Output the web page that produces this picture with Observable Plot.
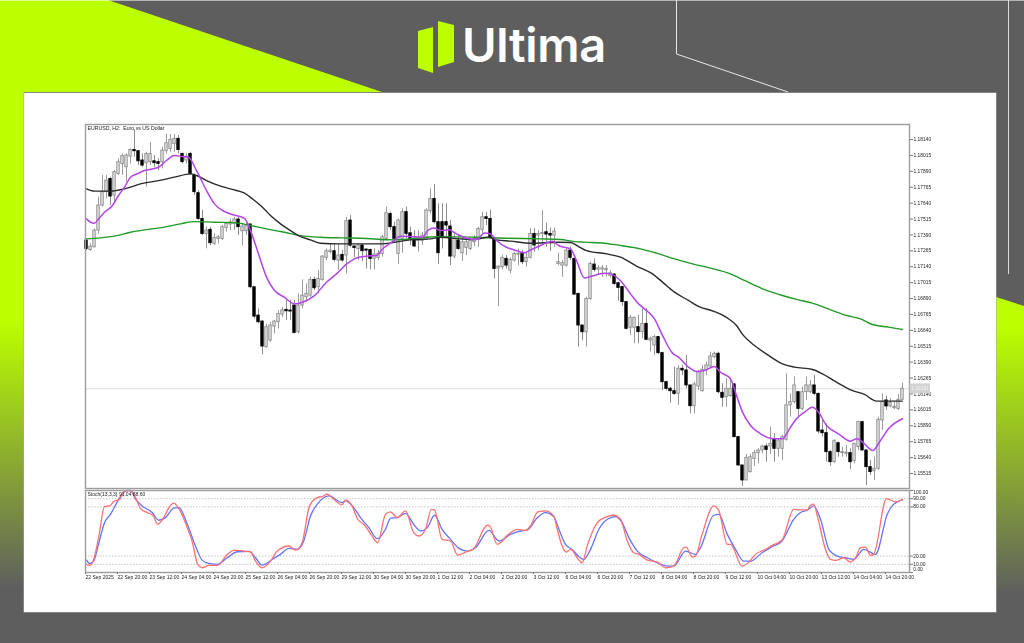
<!DOCTYPE html>
<html>
<head>
<meta charset="utf-8">
<script src="https://cdn.jsdelivr.net/npm/d3@7"></script>
<script src="https://cdn.jsdelivr.net/npm/@observablehq/plot@0.6"></script>
<style>
html,body{margin:0;padding:0;background:#5e5e5e;}
#page{position:relative;width:1024px;height:643px;overflow:hidden;background:#5e5e5e;font-family:"Liberation Sans",sans-serif;}
#page>*{position:absolute;}
#page svg{background:transparent;overflow:visible;}
.chart{left:0;filter:blur(0.5px);}
#logoText{left:462px;top:21px;font:600 47px/1 Inter,sans-serif;color:#fff;letter-spacing:-0.3px;}
</style>
</head>
<body>
<div id="page">
<div style="inset:0;background:#bbff00;clip-path:polygon(0 0,108px 0,382px 92px,24px 92px,24px 100%,0 100%);"></div>
<div style="left:0;top:322px;width:24px;height:321px;background:linear-gradient(#bbff00,#5e5e5e 83%);"></div>
<div style="left:996px;top:297px;width:28px;height:346px;background:linear-gradient(#bbff00 8%,#bbff00 9%,#5e5e5e 86%);clip-path:polygon(0 0,100% 9px,100% 100%,0 100%);"></div>
<div style="left:0;top:0;width:1024px;height:1px;background:rgba(255,255,255,.55);"></div>
<svg style="left:0;top:0" width="1024" height="300"><path d="M676.5 0V54L788 92" fill="none" stroke="#e8e8e8" stroke-width="1"/><path d="M1008.5 0V274" fill="none" stroke="#dcdcdc" stroke-width="1"/><path d="M418 31L433 27V73L418 68ZM438 21L454 25V62L438 67Z" fill="#bbff00"/></svg>
<div id="logoText">Ultima</div>
<div style="left:24px;top:92.5px;width:972px;height:519.5px;background:#fff;box-shadow:0 0 0 .5px #aaa;"></div>
<div id="main" class="chart" style="top:0"></div>
<div id="stoch" class="chart" style="top:490px"></div>
</div>
<script>
// Candles, in 1e-5 price points (bar 0 = 22 Sep 2025, H2)
const opens = [117346,117272,117293,117424,117621,117726,117830,117700,117870,117948,
117922,118006,118058,118048,117975,117954,117962,117969,117962,117962,
118048,118066,118106,118145,118027,117975,118027,117857,117718,117516,
117398,117430,117320,117359,117359,117445,117472,117477,117511,117419,
117419,117472,116979,116756,116709,116507,116560,116670,116704,116764,
116801,116796,116835,116625,116835,116900,116913,117037,116979,117037,
117210,117254,117262,117189,117233,117228,117503,117299,117280,117307,
117275,117272,117202,117210,117241,117359,117555,117451,117241,117359,
117569,117403,117359,117341,117341,117351,117576,117673,117490,117490,
117490,117456,117220,117346,117246,117288,117280,117333,117359,117430,
117529,117516,117359,117126,117136,117202,117110,117189,117236,117241,
117176,117210,117398,117385,117398,117411,117398,117385,117162,117149,
117149,117267,117202,116927,116678,116625,116887,117157,117118,117118,
117113,117068,117079,117010,116980,116862,116660,116660,116665,116626,
116691,116560,116521,116587,116461,116233,116181,116162,116141,116338,
116325,116207,116044,116199,116162,116325,116356,116429,116456,116149,
116115,116123,116215,115801,115578,115460,115526,115630,115675,115696,
115727,115727,115780,115709,115709,115780,116050,116076,116154,116023,
116154,116154,116207,116141,115853,115832,115683,115604,115753,115675,
115670,115675,115612,115722,115919,115696,115565,115533,115552,115932,
116089,116042,116028,116023,116094];
const highs = [117351,117320,117438,117686,117857,117857,117844,117896,117988,118027,
118027,118066,118216,118053,118027,118040,118119,118014,117988,118079,
118179,118179,118179,118171,118032,118027,118040,117870,117739,117582,
117451,117451,117398,117385,117464,117490,117516,117529,117529,117477,
117490,117477,116979,116809,116717,116686,116704,116717,116796,116822,
116874,116874,116874,116927,117037,117005,117058,117058,117110,117228,
117280,117320,117320,117320,117267,117529,117542,117307,117314,117314,
117280,117280,117280,117267,117385,117608,117569,117490,117516,117595,
117608,117451,117424,117424,117411,117595,117752,117786,117634,117634,
117634,117503,117398,117385,117359,117359,117372,117385,117451,117569,
117569,117587,117372,117149,117228,117228,117210,117254,117280,117267,
117254,117438,117438,117424,117582,117482,117445,117445,117246,117189,
117280,117293,117202,116927,116678,116900,117176,117202,117149,117149,
117149,117110,117084,117018,116980,116862,116757,116744,116757,116809,
116809,116587,116600,116592,116469,116233,116194,116351,116364,116364,
116443,116207,116233,116325,116364,116390,116469,116469,116469,116220,
116259,116259,116220,115806,115578,115664,115664,115696,115709,115735,
115748,115879,115827,115788,115814,116298,116141,116272,116159,116194,
116272,116246,116285,116146,115932,115905,115696,115780,115761,115722,
115735,115709,115748,115926,115926,115696,115617,115643,115958,116141,
116123,116102,116076,116136,116225];
const lows = [117267,117262,117288,117398,117608,117673,117621,117634,117857,117857,
117804,117948,118001,117935,117922,117765,117935,117922,117896,117909,
118027,118040,118040,118027,117948,117948,117857,117700,117503,117385,
117280,117306,117306,117320,117346,117411,117424,117424,117385,117306,
117385,116966,116730,116691,116447,116502,116547,116612,116651,116743,
116717,116717,116612,116612,116809,116861,116900,116953,116927,117026,
117189,117241,117176,117110,117176,117084,117293,117210,117189,117183,
117123,117115,117115,117189,117215,117346,117424,117333,117157,117246,
117359,117307,117293,117254,117307,117346,117555,117477,117157,117280,
117372,117149,117202,117267,117183,117228,117267,117299,117293,117398,
117464,117359,117044,116827,117115,117123,117084,117176,117149,117157,
117136,117202,117254,117267,117307,117293,117259,117293,117149,117058,
117136,117189,116914,116507,116560,116507,116874,117097,117071,117058,
117058,117052,116992,116869,116828,116644,116600,116534,116534,116574,
116560,116469,116443,116450,116167,116167,116068,116128,116050,116285,
116181,115984,115984,116167,116154,116285,116346,116416,116141,116036,
116036,116115,115795,115570,115413,115460,115518,115570,115591,115670,
115604,115664,115604,115643,115617,115769,115958,116063,115945,116010,
116089,116141,116128,115827,115801,115604,115570,115596,115643,115643,
115643,115544,115591,115696,115691,115421,115499,115460,115539,115853,
116010,116031,116018,116010,116089];
const closes = [117280,117299,117424,117621,117726,117817,117692,117883,117962,118009,
118014,118058,118048,117969,117935,118027,118027,117954,117948,118053,
118111,118137,118145,118058,117962,118006,117870,117726,117516,117398,
117424,117325,117367,117372,117451,117477,117490,117511,117451,117456,
117464,116979,116748,116704,116513,116665,116678,116709,116769,116796,
116790,116788,116620,116835,116913,116927,117037,116971,117045,117220,
117262,117267,117194,117228,117189,117498,117306,117288,117307,117262,
117267,117202,117236,117241,117372,117561,117451,117359,117503,117569,
117398,117359,117299,117359,117385,117582,117673,117490,117246,117372,
117464,117220,117359,117280,117333,117333,117346,117359,117438,117529,
117516,117372,117123,117141,117210,117149,117194,117241,117241,117176,
117210,117398,117307,117398,117406,117393,117385,117417,117176,117168,
117267,117210,116921,116678,116625,116887,117162,117115,117128,117128,
117123,117089,117005,116974,116862,116652,116739,116739,116626,116691,
116566,116574,116587,116461,116233,116181,116162,116141,116338,116325,
116207,116044,116215,116311,116330,116364,116435,116456,116154,116110,
116181,116181,115801,115578,115460,115638,115643,115675,115696,115727,
115701,115748,115709,115774,115801,116050,116076,116207,116023,116154,
116207,116207,116141,115845,115832,115683,115604,115769,115683,115683,
115678,115604,115748,115919,115696,115565,115526,115552,115937,116076,
116042,116068,116039,116094,116181];

// Moving averages: [bar, price points]
const maFast = [[0,117516],[1,117490],[2,117482],[3,117516],[4.5,117568],[6.5,117621],[8,117700],[9.5,117765],[11,117844],[13,117875],[14.5,117896],[18,117922],[20,117975],[22,118014],[24,118006],[25.5,118001],[27.5,117896],[30,117739],[32,117634],[34,117582],[36,117555],[39.5,117521],[41,117424],[43,117241],[45,117058],[47,116953],[49.5,116900],[52,116848],[54,116861],[57,116913],[60,117018],[62.5,117084],[65,117160],[67,117202],[70,117223],[72.5,117228],[74,117280],[76,117325],[78.5,117380],[81,117377],[84,117372],[85.5,117430],[87,117445],[88.5,117424],[90.5,117430],[92.5,117398],[95,117364],[97.5,117354],[99.5,117406],[101,117398],[102.5,117346],[105,117293],[107,117272],[109.5,117249],[111,117272],[113.5,117307],[116.5,117341],[118,117307],[121,117280],[122.5,117189],[124.5,117052],[126,117063],[129.5,117089],[131,117084],[133.5,117030],[136,116927],[138,116849],[139.5,116809],[142,116731],[144,116600],[146.5,116461],[148,116429],[150.5,116351],[152.5,116317],[154.5,116325],[157,116356],[158.5,116311],[161,116259],[162.5,116128],[164,115997],[166,115892],[168.5,115827],[172,115788],[174,115788],[176,115879],[177.5,115945],[179.5,115997],[181.5,116036],[183,115997],[185,115892],[188,115827],[191,115769],[192.5,115788],[194.5,115748],[196.5,115696],[198.5,115774],[200.5,115866],[204,115945]];
const maMid = [[0,117752],[2,117734],[6,117734],[9.5,117752],[13.5,117791],[18,117817],[22,117844],[26,117870],[27.5,117857],[30,117817],[33.5,117773],[37.5,117739],[39.5,117718],[41.5,117673],[44,117608],[46,117542],[48.5,117477],[51,117424],[53,117385],[56,117351],[58.5,117325],[63,117320],[68.5,117320],[74,117320],[77,117333],[81,117351],[86,117359],[88.5,117372],[93.5,117359],[97,117354],[100.5,117372],[102.5,117351],[106,117341],[111,117325],[118,117333],[121,117330],[123,117299],[125,117267],[130,117241],[133.5,117215],[137.5,117145],[141.5,117084],[144,117019],[147,116940],[150.5,116875],[153,116828],[157,116788],[160.5,116731],[162.5,116678],[164,116608],[167,116521],[170.5,116443],[174,116377],[177,116351],[181.5,116332],[184,116298],[187.5,116233],[191.5,116167],[194.5,116136],[197.5,116084],[204,116084]];
const maSlow = [[0,117359],[3.5,117367],[7,117380],[11,117411],[15,117432],[19.5,117451],[23.5,117477],[27,117495],[32,117490],[37.5,117485],[41,117464],[45,117438],[49.5,117411],[53.5,117385],[58.5,117372],[63.5,117367],[68.5,117364],[77,117351],[85,117372],[88,117377],[97,117372],[105,117364],[113.5,117359],[118.5,117354],[122,117338],[124.5,117333],[129.5,117325],[133.5,117307],[138.5,117281],[142.5,117247],[147,117202],[151.5,117163],[156,117129],[161,117084],[164.5,117032],[169,116967],[174,116914],[177.5,116883],[181.5,116854],[186,116801],[190,116757],[193.5,116731],[196.5,116686],[200.5,116665],[204,116647]];

// Stochastic lines: [bar, value]
const stochMain = [[0,10],[.75,8.6],[1.8,15.9],[3.1,44.5],[4.5,80.4],[5.75,81.2],[6.8,86.5],[8.3,89.4],[8.9,95.5],[9.75,99.6],[11,100],[12.25,91.4],[13.5,77.9],[15.2,73.1],[16.7,69],[17.8,58.8],[19.3,66.9],[20.6,79.2],[21.8,84.5],[23.1,77.9],[25.2,54.7],[26.4,38.4],[27.8,9.8],[28.9,5.7],[30.6,8.6],[32.7,8.6],[35.2,22.1],[37,27.4],[39.3,26.1],[41,25.3],[42.25,13.9],[43.9,5.7],[46,13.9],[47.7,26.1],[50.6,32.3],[52.25,27.4],[53.9,36.3],[55.75,81.2],[57.7,91.4],[58.9,92.6],[60.2,95.5],[61.8,89.4],[63.9,82.4],[64.75,88.6],[66.4,81.2],[67.8,64.9],[69.3,58.8],[71.4,44.5],[72.8,36.3],[74.75,71],[76,73.9],[77.7,66.9],[79.75,75.1],[81.8,48.6],[83.1,44.5],[84.75,52.7],[86.2,77.1],[87,76.3],[88.9,40.4],[91,38.4],[92.8,21.2],[94.75,24.9],[96.8,29],[100.2,57.6],[100.8,56.7],[102.7,34.3],[103.5,36.3],[105.2,45.3],[107.7,52.7],[109.75,51.4],[111,56.7],[112.8,73.9],[114.75,75.1],[116.8,69],[117.7,52.7],[118.9,32.3],[119.9,24.9],[121,28.2],[123.1,15.1],[123.9,11.9],[125.3,34.3],[127.7,60.8],[130.2,68.2],[131.8,69.8],[133.5,64.9],[135.2,38.4],[136.8,24.1],[138.1,22.1],[140.2,15.1],[142.7,12.7],[144.75,5.7],[146.8,7.8],[149.3,30.2],[149.9,31],[151.4,19.2],[152.25,20],[153.9,46.5],[156.8,81.2],[158.1,75.1],[160.2,34.3],[161,34.3],[163.9,7.8],[165.6,12.7],[167.25,22.1],[169.75,28.2],[171.4,33.1],[173.9,39.6],[176.8,77.1],[178.1,76.3],[180.2,76.3],[181,82],[181.8,83.3],[182.7,69],[184.75,28.2],[186,15.9],[187.25,14.7],[189.3,18],[191,12.7],[192.25,18],[193.5,30.2],[194.75,31],[196,20.8],[196.8,22.1],[200,90.2],[202.25,86.1],[204,89.4]];
const stochSignal = [[0,15.1],[.75,11],[1.8,13.9],[3.1,36.3],[4.5,60.8],[6,71],[7.7,86.1],[8.9,95.5],[10,100],[11,100],[12.25,89.4],[13.9,81.2],[16.4,73.1],[18.1,63.7],[19.75,66.9],[21.8,78.4],[23.1,79.2],[25.2,58.8],[27.25,32.3],[28.9,15.1],[30.6,11],[32.7,9.8],[35.2,18],[37.7,25.3],[40.6,25.7],[42.25,18],[43.9,9],[46.4,15.9],[48.5,22.1],[50.6,29.4],[52.7,28.2],[54.3,38.4],[56,69],[57.7,83.3],[60.6,93.5],[63.9,85.3],[64.75,87.3],[66.8,79.2],[68.5,66.9],[70.6,54.7],[72.7,41.2],[74.75,52.7],[76,66.1],[77.7,66.9],[79.75,72.2],[81.8,58.8],[83.5,50.6],[85.2,54.7],[87,69.8],[88.9,52.7],[91,40.4],[93.1,29.4],[95.2,26.1],[97.25,30.2],[100.6,51.4],[103.1,38.4],[106,46.5],[108.5,50.6],[110.2,51.8],[112.7,66.9],[114.75,73.1],[116.8,68.2],[118.1,52.7],[119.75,34.3],[121.4,28.2],[123.1,19.2],[124.3,15.9],[126,28.2],[128.1,52.7],[130.2,64.9],[132.25,68.2],[133.9,60.8],[135.6,42.5],[137.7,26.1],[140.2,18],[143.1,11],[145.2,7.8],[146.8,7.8],[149.75,26.1],[152.25,22.1],[153.5,30.2],[156.8,69.8],[158.1,71],[160.2,46.5],[162.25,28.2],[164.3,13.9],[166,13.9],[168.9,24.1],[171.4,31.4],[173.9,38.4],[176.8,64.9],[178.5,73.1],[180.2,75.9],[181.8,81.2],[183.5,64.9],[185.6,28.2],[187.7,20],[189.75,18],[191.8,15.9],[194.3,28.2],[197.25,22.1],[200.2,71],[201.4,81.2],[204,88.6]];

const priceTicks = [1.18140,1.18015,1.17890,1.17765,1.17640,1.17515,1.17390,1.17265,1.17140,1.17015,1.16890,1.16765,1.16640,1.16515,1.16390,1.16265,1.16140,1.16015,1.15890,1.15765,1.15640,1.15515];
const stochLevels = [90,80,20,10];
const timeLabels = ["22 Sep 2025","22 Sep 20:00","23 Sep 12:00","24 Sep 04:00","24 Sep 20:00","25 Sep 12:00","26 Sep 04:00","26 Sep 20:00","29 Sep 12:00","30 Sep 04:00","30 Sep 20:00","1 Oct 12:00","2 Oct 04:00","2 Oct 20:00","3 Oct 12:00","6 Oct 04:00","6 Oct 20:00","7 Oct 12:00","8 Oct 04:00","8 Oct 20:00","9 Oct 12:00","10 Oct 04:00","10 Oct 20:00","13 Oct 12:00","14 Oct 04:00","14 Oct 20:00"];
const lastPrice = 1.16181;
const chartTitle = "EURUSD, H2:  Euro vs US Dollar";
const stochTitle = "Stoch(13,3,3) 91.04 88.60";

const P = 1e5;
const candles = opens.map((o,i)=>({i,open:o/P,high:highs[i]/P,low:lows[i]/P,close:closes[i]/P}));
const bulls = candles.filter(d=>d.close>=d.open);
const bears = candles.filter(d=>d.close<d.open);
const toLine = a => a.map(([bar,price])=>({bar,price:price/P}));
const toStoch = a => a.map(([bar,v])=>({bar,v}));
const half = 0.3;
const xDomain = [-0.25,205.75];
const font = "Liberation Sans, sans-serif";
const frameColor = "#9c9c9c";

const main = Plot.plot({
  width:1024,height:490,
  marginLeft:85,marginRight:115,marginTop:124,marginBottom:2,
  style:{fontFamily:font,background:"transparent"},
  x:{domain:xDomain,axis:null},
  y:{domain:[1.15397,1.18258],axis:null},
  marks:[
    Plot.ruleY([lastPrice],{stroke:"#dcdcdc",strokeWidth:1}),
    Plot.ruleX(bulls,{x:"i",y1:"low",y2:"high",stroke:"#909090",strokeWidth:.9}),
    Plot.ruleX(bears,{x:"i",y1:"low",y2:"high",stroke:"#808080",strokeWidth:.9}),
    Plot.rect(bulls,{x1:d=>d.i-half,x2:d=>d.i+half,y1:"open",y2:"close",fill:"#e4e4e4",stroke:"#8a8a8a",strokeWidth:.9}),
    Plot.rect(bears,{x1:d=>d.i-half,x2:d=>d.i+half,y1:"open",y2:"close",fill:"#000",stroke:"#000",strokeWidth:.9}),
    Plot.line(toLine(maSlow),{x:"bar",y:"price",stroke:"#1f9a26",strokeWidth:1.35,curve:"monotone-x"}),
    Plot.line(toLine(maMid),{x:"bar",y:"price",stroke:"#2a2a2a",strokeWidth:1.4,curve:"monotone-x"}),
    Plot.line(toLine(maFast),{x:"bar",y:"price",stroke:"#b344ea",strokeWidth:1.5,curve:"monotone-x"}),
    Plot.frame({stroke:frameColor,strokeWidth:1.4}),
    Plot.text([chartTitle],{frameAnchor:"top-left",dx:2,dy:1.5,fontSize:5.2,fill:"#222",lineAnchor:"top"}),
    Plot.axisY({anchor:"right",ticks:priceTicks,tickFormat:d=>d.toFixed(5),tickSize:3,tickPadding:1,fontSize:4.9,fill:"#222",stroke:"#777",label:null}),
    Plot.rect([lastPrice],{x1:205.9,x2:211,y1:d=>d-0.00038,y2:d=>d+0.00038,fill:"#d2d2d2"}),
    Plot.text([lastPrice],{x:206.2,y:d=>d,text:d=>d.toFixed(5),textAnchor:"start",fontSize:4.9,fill:"#f2f2f2"})
  ]
});
document.getElementById("main").appendChild(main);

const stoch = Plot.plot({
  width:1024,height:100,
  marginLeft:85,marginRight:115,marginTop:0,marginBottom:18,
  style:{fontFamily:font,background:"transparent"},
  x:{domain:xDomain,axis:null},
  y:{domain:[0,100],axis:null},
  marks:[
    Plot.ruleY(stochLevels,{stroke:"#bdbdbd",strokeWidth:.9,strokeDasharray:"1.5,1.5"}),
    Plot.line(toStoch(stochSignal),{x:"bar",y:"v",stroke:"#6474ff",strokeWidth:1.3,curve:"monotone-x"}),
    Plot.line(toStoch(stochMain),{x:"bar",y:"v",stroke:"#ff7070",strokeWidth:1.3,curve:"monotone-x"}),
    Plot.frame({stroke:frameColor,strokeWidth:1.4}),
    Plot.text([stochTitle],{frameAnchor:"top-left",dx:2,dy:2,fontSize:5,fill:"#222",lineAnchor:"top"}),
    Plot.axisY({anchor:"right",ticks:[100,...stochLevels,0],tickFormat:()=>"",tickSize:3,stroke:"#777",label:null}),
    Plot.text(stochLevels,{x:206.7,y:d=>d,text:d=>d.toFixed(2),textAnchor:"start",fontSize:4.9,fill:"#222"}),
    Plot.text([100],{x:206.7,y:d=>d,dy:2.4,text:d=>d.toFixed(2),textAnchor:"start",fontSize:4.9,fill:"#222"}),
    Plot.text([0],{x:206.7,y:d=>d,dy:-3.5,text:d=>d.toFixed(2),textAnchor:"start",fontSize:4.9,fill:"#222"}),
    Plot.axisX({anchor:"bottom",ticks:timeLabels.map((_,k)=>k*8-0.25),tickFormat:d=>timeLabels[Math.round((d+0.25)/8)],textAnchor:"start",tickSize:2,tickPadding:1,fontSize:5,fill:"#222",stroke:"#777",label:null})
  ]
});
document.getElementById("stoch").appendChild(stoch);
</script>
</body>
</html>
